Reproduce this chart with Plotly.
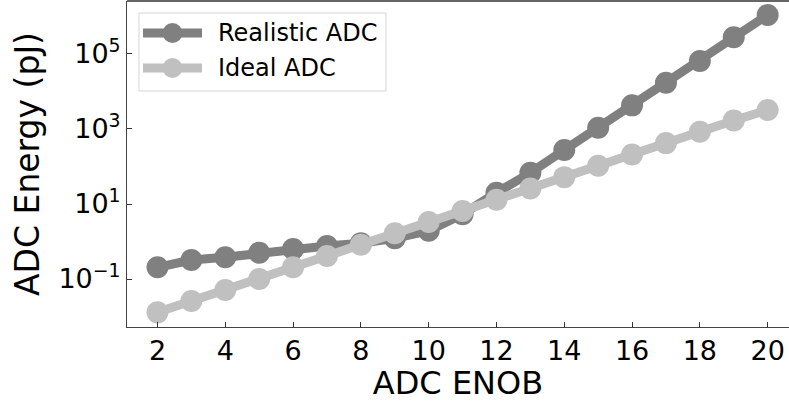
import plotly.graph_objects as go

enob = list(range(2, 21))
realistic = [0.205, 0.32, 0.38, 0.50, 0.63, 0.76, 0.90, 1.22, 1.94, 5.3, 20, 68, 275,
             1080, 4270, 17200, 65000, 279000, 1100000]
ideal = [0.0129, 0.026, 0.051, 0.10, 0.205, 0.41, 0.82, 1.65, 3.3, 6.5, 13, 26, 52,
         105, 210, 420, 840, 1680, 3210]
series_names = ["Realistic ADC", "Ideal ADC"]
series_colors = ["#808080", "#c0c0c0"]

x_ticks = [2, 4, 6, 8, 10, 12, 14, 16, 18, 20]
y_tick_vals = [0.1, 10, 1000, 100000]
y_tick_text = ["10<sup>−1</sup>", "10<sup>1</sup>", "10<sup>3</sup>", "10<sup>5</sup>"]

FONT = "DejaVu Sans"

fig = go.Figure()
for name, ys, col in zip(series_names, [realistic, ideal], series_colors):
    fig.add_trace(go.Scatter(x=enob, y=ys, name=name, mode="lines+markers",
                             line=dict(color=col, width=9),
                             marker=dict(color=col, size=22), showlegend=False))

fig.update_layout(
    width=789, height=402,
    margin=dict(l=127, r=0, t=1, b=75),
    plot_bgcolor="white", paper_bgcolor="white",
    font=dict(family=FONT, color="black"),
    showlegend=False,
    xaxis=dict(range=[1.1, 20.63], tickvals=x_ticks, ticks="inside", ticklen=5,
               tickcolor="#333", showgrid=False, zeroline=False,
               showline=True, linecolor="#444", linewidth=1, mirror=False,
               tickfont=dict(size=27), title=dict(text="ADC ENOB", font=dict(size=32), standoff=10)),
    yaxis=dict(type="log", range=[-2.28, 6.413], tickvals=y_tick_vals, ticktext=y_tick_text,
               ticks="inside", ticklen=5, tickcolor="#333", showgrid=False, zeroline=False,
               showline=True, linecolor="#444", linewidth=1,
               tickfont=dict(size=27), title=dict(text="ADC Energy (pJ)", font=dict(size=33), standoff=8)),
)
fig.add_shape(type="line", xref="paper", yref="paper", x0=0, x1=1, y0=1, y1=1,
              line=dict(color="#666", width=2))

# custom legend (matplotlib style)
fig.add_shape(type="rect", xref="paper", yref="paper", x0=0.0181, x1=0.3912, y0=0.7239, y1=0.9632,
              line=dict(color="#d6d6d6", width=1), fillcolor="rgba(255,255,255,0.8)", layer="above")
rows_y = [0.9018, 0.7945]
for name, col, ry in zip(series_names, series_colors, rows_y):
    fig.add_shape(type="line", xref="paper", yref="paper", x0=0.0242, x1=0.1133, y0=ry, y1=ry,
                  line=dict(color=col, width=9), layer="above")
    fig.add_shape(type="circle", xref="paper", yref="paper", xsizemode="pixel", ysizemode="pixel",
                  xanchor=0.0687, yanchor=ry, x0=-10, x1=10, y0=-10, y1=10,
                  fillcolor=col, line=dict(color=col, width=0), layer="above")
    fig.add_annotation(xref="paper", yref="paper", x=0.134, y=ry, text=name, showarrow=False,
                       xanchor="left", yanchor="middle", font=dict(size=24, family=FONT, color="black"))

fig.write_html("out.html")
